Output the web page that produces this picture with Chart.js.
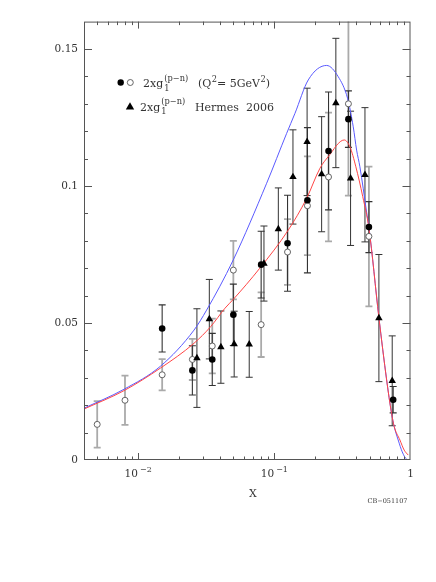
<!DOCTYPE html>
<html>
<head>
<meta charset="utf-8">
<script src="https://cdn.jsdelivr.net/npm/chart.js@4.4.1/dist/chart.umd.min.js"></script>
<style>
  html, body { margin: 0; padding: 0; background: #fff; }
  canvas { display: block; }
</style>
</head>
<body>
<canvas id="chart" width="436" height="582"></canvas>
<script>
// E155 points (filled), SMC / E155 low-x (open), Hermes 2006 (triangles)
const filledX = [0.015, 0.025, 0.035, 0.05, 0.08, 0.125, 0.175, 0.25, 0.35, 0.495, 0.746];
const filledY = [0.0480, 0.0327, 0.0367, 0.0530, 0.0713, 0.0791, 0.0948, 0.1128, 0.1244, 0.0850, 0.0220];
const filledErr = [0.0086, 0.0090, 0.0095, 0.0112, 0.0122, 0.0175, 0.0265, 0.0215, 0.0103, 0.0093, 0.0048];

const openX = [0.005, 0.008, 0.015, 0.025, 0.035, 0.05, 0.08, 0.125, 0.175, 0.25, 0.35, 0.495];
const openY = [0.0130, 0.0218, 0.0311, 0.0367, 0.0416, 0.0693, 0.0494, 0.0759, 0.0928, 0.1033, 0.1300, 0.0816];
const openErr = [0.0085, 0.0090, 0.0057, 0.0075, 0.0100, 0.0107, 0.0118, 0.0120, 0.0180, 0.0235, 0.0335, 0.0255];

const hermesX = [0.027, 0.0333, 0.0405, 0.0507, 0.0654, 0.0839, 0.107, 0.137, 0.174, 0.2225, 0.283, 0.363, 0.463, 0.586, 0.734];
const hermesY = [0.0372, 0.0514, 0.0412, 0.0423, 0.0422, 0.0717, 0.0843, 0.1033, 0.1161, 0.1043, 0.1303, 0.1028, 0.1041, 0.0518, 0.0289];
const hermesErr = [0.0180, 0.0145, 0.0132, 0.0120, 0.0120, 0.0137, 0.0150, 0.0172, 0.0196, 0.0210, 0.0236, 0.0245, 0.0245, 0.0232, 0.0164];

// curves
const blueX = [0.004, 0.00786, 0.01463, 0.0257, 0.0318, 0.0499, 0.0878, 0.1231, 0.1417, 0.1774, 0.2421, 0.2945, 0.345, 0.3797, 0.402, 0.425, 0.476, 0.495, 0.586, 0.668, 0.726, 0.759, 0.812, 0.869, 0.936, 1.0];
const blueY = [0.0189, 0.0258, 0.0343, 0.0474, 0.0547, 0.0730, 0.1010, 0.1192, 0.1265, 0.1387, 0.1440, 0.1399, 0.1320, 0.1216, 0.1131, 0.1070, 0.0905, 0.0850, 0.0520, 0.0292, 0.0170, 0.0122, 0.0073, 0.0030, 0.0003, 0.0];
const redX = [0.004, 0.00786, 0.01463, 0.0257, 0.0341, 0.0434, 0.0499, 0.0782, 0.1265, 0.1727, 0.2164, 0.2487, 0.326, 0.359, 0.397, 0.446, 0.495, 0.586, 0.668, 0.726, 0.759, 0.836, 0.899, 0.962];
const redY = [0.0186, 0.0253, 0.0336, 0.0426, 0.0487, 0.0554, 0.0586, 0.0700, 0.0839, 0.0955, 0.1065, 0.1107, 0.1168, 0.1143, 0.1070, 0.0961, 0.0845, 0.0520, 0.0292, 0.0170, 0.0122, 0.0073, 0.0036, 0.0018];

const yTickValues = [0, 0.05, 0.1, 0.15];
const yTickLabels = ['0', '0.05', '0.1', '0.15'];
const xTickValues = [0.01, 0.1, 1];
const xTickLabels = [['10', '\u22122'], ['10', '\u22121'], ['1', '']];

const FONT = '"DejaVu Serif", "Liberation Serif", serif';
const AXIS = '#555';

function pts(xs, ys) {
    return xs.map((x, i) => ({ x: x, y: ys[i] }));
}

// draws a run of [text, kind] parts; kind: n, sup, supsub
function drawRich(ctx, x, y, parts, size) {
    ctx.textAlign = 'left';
    ctx.textBaseline = 'alphabetic';
    parts.forEach(p => {
        const t = p[0], kind = p[1];
        if (kind === 'n') {
            ctx.font = size + 'px ' + FONT;
            ctx.fillText(t, x, y);
            x += ctx.measureText(t).width;
        } else if (kind === 'sup') {
            ctx.font = (size * 0.75) + 'px ' + FONT;
            ctx.fillText(t, x + 0.5, y - size * 0.5);
            x += ctx.measureText(t).width + 0.5;
        } else if (kind === 'supsub') {
            ctx.font = (size * 0.75) + 'px ' + FONT;
            ctx.fillText(t[0], x + 1, y + size * 0.35);
            const w1 = ctx.measureText(t[0]).width;
            ctx.fillText(t[1], x + 1, y - size * 0.55);
            const w2 = ctx.measureText(t[1]).width;
            x += Math.max(w1, w2) + 1;
        }
    });
    return x;
}

const errorBars = {
    id: 'errorBars',
    beforeDatasetsDraw(chart) {
        const ctx = chart.ctx, a = chart.chartArea;
        const xs = chart.scales.x, ys = chart.scales.y;
        ctx.save();
        ctx.beginPath();
        ctx.rect(a.left, a.top, a.right - a.left, a.bottom - a.top);
        ctx.clip();
        chart.data.datasets.forEach(ds => {
            if (!ds.errors) return;
            ctx.strokeStyle = ds.errColor;
            ctx.lineWidth = ds.errWidth;
            ds.data.forEach((p, i) => {
                const px = xs.getPixelForValue(p.x);
                const hi = ys.getPixelForValue(p.y + ds.errors[i]);
                const lo = ys.getPixelForValue(p.y - ds.errors[i]);
                ctx.beginPath();
                ctx.moveTo(px, hi); ctx.lineTo(px, lo);
                ctx.moveTo(px - 3.5, hi); ctx.lineTo(px + 3.5, hi);
                ctx.moveTo(px - 3.5, lo); ctx.lineTo(px + 3.5, lo);
                ctx.stroke();
            });
        });
        ctx.restore();
    }
};

const frameAndText = {
    id: 'frameAndText',
    afterDraw(chart) {
        const ctx = chart.ctx, a = chart.chartArea;
        const xs = chart.scales.x, ys = chart.scales.y;
        ctx.save();
        ctx.strokeStyle = AXIS;
        ctx.lineWidth = 1;
        ctx.strokeRect(a.left + 0.5, a.top + 0.5, a.right - a.left - 1, a.bottom - a.top - 1);

        // x ticks, log decades
        ctx.beginPath();
        for (let d = 0.001; d < 1; d *= 10) {
            for (let m = 1; m <= 9; m++) {
                const v = d * m;
                if (v < 0.0041 || v > 0.99) continue;
                const px = Math.round(xs.getPixelForValue(v)) + 0.5;
                const len = m === 1 ? 7 : 3.5;
                ctx.moveTo(px, a.bottom); ctx.lineTo(px, a.bottom - len);
                ctx.moveTo(px, a.top); ctx.lineTo(px, a.top + len);
            }
        }
        // y ticks every 0.01
        for (let k = 1; k <= 15; k++) {
            const v = k / 100;
            const py = Math.round(ys.getPixelForValue(v)) + 0.5;
            const len = k % 5 === 0 ? 8 : 4;
            ctx.moveTo(a.left, py); ctx.lineTo(a.left + len, py);
            ctx.moveTo(a.right, py); ctx.lineTo(a.right - len, py);
        }
        ctx.stroke();

        ctx.fillStyle = '#333';
        ctx.font = '10.5px ' + FONT;
        ctx.textAlign = 'right';
        ctx.textBaseline = 'middle';
        yTickValues.forEach((v, i) => {
            ctx.fillText(yTickLabels[i], a.left - 6, ys.getPixelForValue(v));
        });

        xTickValues.forEach((v, i) => {
            const px = xs.getPixelForValue(v);
            const base = xTickLabels[i][0], exp = xTickLabels[i][1];
            ctx.font = '10.5px ' + FONT;
            const w1 = ctx.measureText(base).width;
            ctx.font = '8px ' + FONT;
            const w2 = exp ? ctx.measureText(exp).width + 2 : 0;
            const x0 = px - (w1 + w2) / 2;
            ctx.textAlign = 'left';
            ctx.textBaseline = 'alphabetic';
            ctx.font = '10.5px ' + FONT;
            ctx.fillText(base, x0, a.bottom + 17);
            if (exp) {
                ctx.font = '8px ' + FONT;
                ctx.fillText(exp, x0 + w1 + 2, a.bottom + 12);
            }
        });

        ctx.font = '11px ' + FONT;
        ctx.textAlign = 'center';
        ctx.textBaseline = 'middle';
        ctx.fillText('X', 253, a.bottom + 34);

        ctx.font = '6.5px ' + FONT;
        ctx.textAlign = 'right';
        ctx.fillText('CB\u2212051107', a.right - 3, a.bottom + 41);

        // legend
        ctx.fillStyle = '#000';
        ctx.beginPath();
        ctx.arc(120.7, 82.5, 3.2, 0, Math.PI * 2);
        ctx.fill();
        ctx.strokeStyle = '#555';
        ctx.lineWidth = 0.9;
        ctx.beginPath();
        ctx.arc(130.3, 82.5, 3, 0, Math.PI * 2);
        ctx.stroke();
        ctx.beginPath();
        ctx.moveTo(130, 102.3); ctx.lineTo(134.2, 109.5); ctx.lineTo(125.8, 109.5);
        ctx.closePath();
        ctx.fill();

        ctx.fillStyle = '#333';
        drawRich(ctx, 143, 87, [['2xg', 'n'], [['1', '(p\u2212n)'], 'supsub']], 11);
        drawRich(ctx, 198, 87, [['(Q', 'n'], ['2', 'sup'], ['= 5GeV', 'n'], ['2', 'sup'], [')', 'n']], 11);
        drawRich(ctx, 140, 110.5, [['2xg', 'n'], [['1', '(p\u2212n)'], 'supsub']], 11);
        drawRich(ctx, 195, 110.5, [['Hermes  2006', 'n']], 11);
        ctx.restore();
    }
};

const chart = new Chart(document.getElementById('chart'), {
    type: 'scatter',
    data: {
        datasets: [
            {
                label: 'blue curve',
                data: pts(blueX, blueY),
                showLine: true,
                borderColor: 'rgb(90, 90, 255)',
                borderWidth: 1,
                pointRadius: 0,
                cubicInterpolationMode: 'monotone',
                order: 5
            },
            {
                label: 'red curve',
                data: pts(redX, redY),
                showLine: true,
                borderColor: 'rgb(255, 70, 70)',
                borderWidth: 1,
                pointRadius: 0,
                cubicInterpolationMode: 'monotone',
                order: 4
            },
            {
                label: 'open',
                data: pts(openX, openY),
                errors: openErr,
                errColor: '#aaa',
                errWidth: 1.8,
                pointStyle: 'circle',
                pointRadius: 3,
                backgroundColor: '#fff',
                borderColor: '#555',
                borderWidth: 0.9,
                order: 3
            },
            {
                label: 'filled',
                data: pts(filledX, filledY),
                errors: filledErr,
                errColor: '#333',
                errWidth: 1.1,
                pointStyle: 'circle',
                pointRadius: 3.3,
                backgroundColor: '#000',
                borderColor: '#000',
                borderWidth: 0,
                order: 2
            },
            {
                label: 'Hermes 2006',
                data: pts(hermesX, hermesY),
                errors: hermesErr,
                errColor: '#333',
                errWidth: 1,
                pointStyle: 'triangle',
                pointRadius: 4.3,
                backgroundColor: '#000',
                borderColor: '#000',
                borderWidth: 0,
                order: 1
            }
        ]
    },
    options: {
        responsive: false,
        animation: false,
        devicePixelRatio: 1,
        layout: { padding: { left: 84, right: 25.5, top: 21.6, bottom: 122 } },
        scales: {
            x: { type: 'logarithmic', min: 0.004, max: 1, display: false },
            y: { type: 'linear', min: 0, max: 0.16, display: false }
        },
        plugins: {
            legend: { display: false },
            tooltip: { enabled: false }
        }
    },
    plugins: [errorBars, frameAndText]
});
</script>
</body>
</html>
